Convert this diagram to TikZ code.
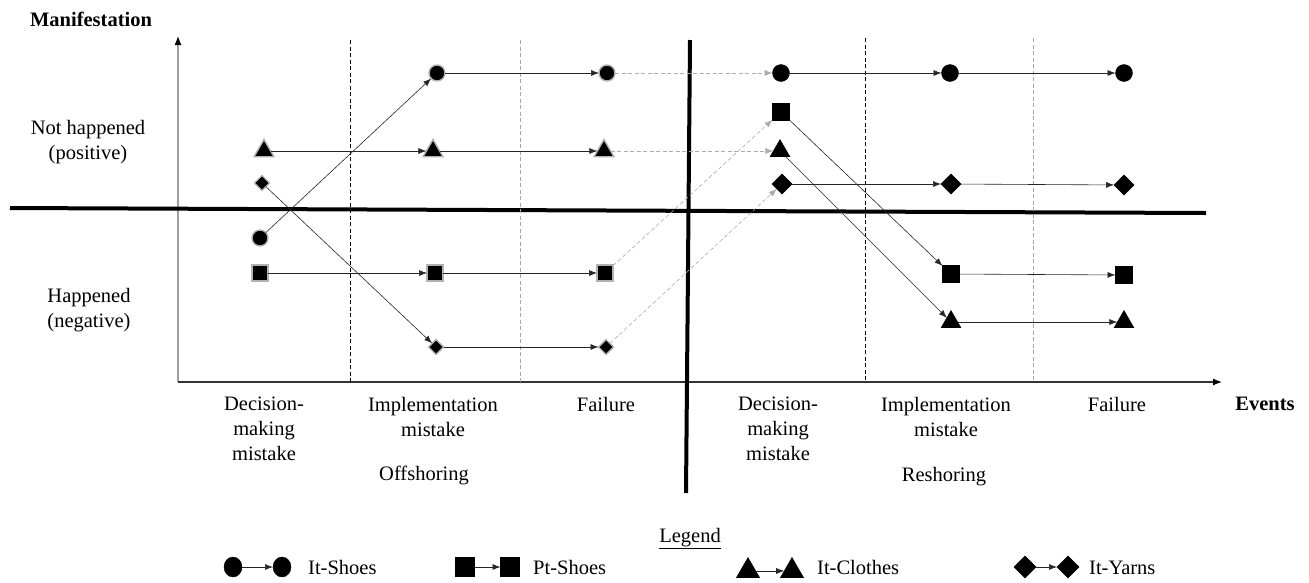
\documentclass[tikz,border=0pt]{standalone}
\usepackage{fontspec}
\setmainfont{Liberation Serif}
\usetikzlibrary{arrows.meta,shapes.geometric}
\begin{document}
\begin{tikzpicture}[x=1pt,y=-1pt,
  font=\fontsize{20.5}{25}\selectfont,
  mk/.style={fill=black, inner sep=0pt, outer sep=0pt},
  off/.style={draw=gray!60, line width=1.4pt},
  res/.style={draw=black, line width=0.4pt},
  cir/.style={mk, circle, minimum size=16pt},
  sqr/.style={mk, rectangle, minimum size=16pt},
  tri/.style={mk, regular polygon, regular polygon sides=3, minimum size=23pt},
  dia/.style={mk, diamond, minimum size=17pt},
  link/.style={-{Latex[length=8pt,width=6pt]}, line width=0.6pt, draw=black!85},
  glink/.style={-{Latex[length=8pt,width=6pt]}, line width=0.6pt, draw=gray!65, dash pattern=on 4pt off 2.5pt},
  lbl/.style={align=center, inner sep=0pt, anchor=north},
  sep/.style={line width=0.6pt, dash pattern=on 4pt off 2.5pt},
]
\useasboundingbox (0,0) rectangle (1309,582);

% axes
\coordinate (O) at (178,382);
\coordinate (Ytop) at (178,36);
\coordinate (Xend) at (1222,382);
\draw[gray!75, line width=1.2pt, -{Latex[length=9pt,width=7pt,color=black]}] (O) -- (Ytop);
\draw[black!80, line width=1.2pt, -{Latex[length=9pt,width=7pt,color=black]}] (O) -- (Xend);

% thick separators
\coordinate (HL) at (10,208);
\coordinate (HR) at (1206,213);
\coordinate (VT) at (690,40);
\coordinate (VB) at (686,493);
\draw[line width=4pt] (HL) -- (HR);
\draw[line width=4pt] (VT) -- (VB);

% dashed column separators
\coordinate (a1) at (350,40); \coordinate (a2) at (350,382);
\coordinate (b1) at (520,40); \coordinate (b2) at (520,382);
\coordinate (e1) at (865,38); \coordinate (e2) at (865,382);
\coordinate (f1) at (1033,38); \coordinate (f2) at (1033,382);
\draw[sep, black] (a1) -- (a2);
\draw[sep, gray!70] (b1) -- (b2);
\draw[sep, black] (e1) -- (e2);
\draw[sep, gray!70] (f1) -- (f2);

% offshoring markers
\node[cir,off] (c1) at (260,238) {};
\node[tri,off] (t1) at (264,151) {};
\node[dia,off,minimum size=15pt] (d1) at (262,183) {};
\node[sqr,off] (s1) at (260,273) {};
\node[cir,off] (c2) at (437,73) {};
\node[tri,off] (t2) at (433,151) {};
\node[sqr,off] (s2) at (435,273) {};
\node[dia,off,minimum size=15pt] (d2) at (436,347) {};
\node[cir,off] (c3) at (607,73) {};
\node[tri,off] (t3) at (604,151) {};
\node[sqr,off] (s3) at (605,273) {};
\node[dia,off,minimum size=15pt] (d3) at (606,347) {};

% reshoring markers
\node[cir,res,minimum size=17pt] (c4) at (781,73) {};
\node[sqr,res,minimum size=17pt] (s4) at (781,112) {};
\node[tri,res] (t4) at (780,151) {};
\node[dia,res,minimum size=20pt] (d4) at (782,184) {};
\node[cir,res,minimum size=17pt] (c5) at (950,73) {};
\node[dia,res,minimum size=20pt] (d5) at (951,184) {};
\node[sqr,res,minimum size=17pt] (s5) at (951,274) {};
\node[tri,res] (t5) at (951,322) {};
\node[cir,res,minimum size=17pt] (c6) at (1124,73) {};
\node[dia,res,minimum size=20pt] (d6) at (1124,185) {};
\node[sqr,res,minimum size=17pt] (s6) at (1124,275) {};
\node[tri,res] (t6) at (1124,322) {};

% offshoring connectors
\draw[link] (c1) -- (c2);
\draw[link] (c2) -- (c3);
\draw[link] (t1) -- (t2);
\draw[link] (t2) -- (t3);
\draw[link] (d1) -- (d2);
\draw[link] (d2) -- (d3);
\draw[link] (s1) -- (s2);
\draw[link] (s2) -- (s3);

% transition connectors
\draw[glink] (c3) -- (c4);
\draw[glink] (t3) -- (t4);
\draw[glink] (s3) -- (s4);
\draw[glink] (d3) -- (d4);

% reshoring connectors
\draw[link] (c4) -- (c5);
\draw[link] (c5) -- (c6);
\draw[link] (s4) -- (s5);
\draw[link] (s5) -- (s6);
\draw[link] (t4) -- (t5);
\draw[link] (t5) -- (t6);
\draw[link] (d4) -- (d5);
\draw[link] (d5) -- (d6);

% labels
\node[lbl, font=\fontsize{20.5}{25}\selectfont\bfseries] (lman) at (91,12) {Manifestation};
\node[lbl] (lpos) at (88,120) {Not happened\\(positive)};
\node[lbl] (lneg) at (89,288) {Happened\\(negative)};
\node[lbl] (ev1) at (264,397) {Decision-\\making\\mistake};
\node[lbl] (ev2) at (433,397) {Implementation\\mistake};
\node[lbl] (ev3) at (606,397) {Failure};
\node[lbl] (ev4) at (778,397) {Decision-\\making\\mistake};
\node[lbl] (ev5) at (946,397) {Implementation\\mistake};
\node[lbl] (ev6) at (1117,397) {Failure};
\node[lbl, font=\fontsize{20.5}{25}\selectfont\bfseries] (lev) at (1265,397) {Events};
\node[lbl] (loff) at (424,466) {Offshoring};
\node[lbl] (lres) at (944,467) {Reshoring};

% legend
\node[lbl] (lleg) at (690,528) {\underline{Legend}};
\node[cir,res,minimum width=18pt,minimum height=20pt,ellipse] (gc1) at (233,567) {};
\node[cir,res,minimum width=18pt,minimum height=20pt,ellipse] (gc2) at (282,567) {};
\draw[link] (gc1) -- (gc2);
\node[anchor=base west, inner sep=0pt] (gct) at (308,574) {It-Shoes};
\node[sqr,res,minimum size=19pt] (gs1) at (465,567) {};
\node[sqr,res,minimum size=19pt] (gs2) at (510,567) {};
\draw[link] (gs1) -- (gs2);
\node[anchor=base west, inner sep=0pt] (gst) at (533,574) {Pt-Shoes};
\node[tri,res,minimum size=27pt] (gt1) at (748,571) {};
\node[tri,res,minimum size=27pt] (gt2) at (792,571) {};
\draw[link] (gt1) -- (gt2);
\node[anchor=base west, inner sep=0pt] (gtt) at (817,574) {It-Clothes};
\node[dia,res,minimum size=22pt] (gd1) at (1025,567) {};
\node[dia,res,minimum size=22pt] (gd2) at (1068,567) {};
\draw[link] (gd1) -- (gd2);
\node[anchor=base west, inner sep=0pt] (gdt) at (1089,574) {It-Yarns};
\end{tikzpicture}
\end{document}
